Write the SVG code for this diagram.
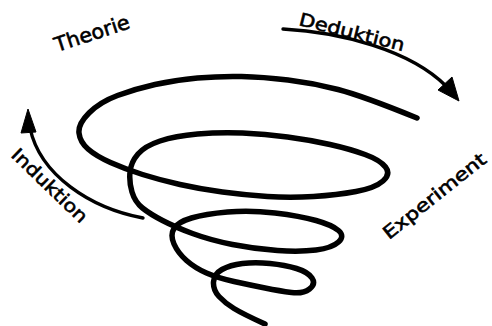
<svg xmlns="http://www.w3.org/2000/svg" width="492" height="326" viewBox="0 0 492 326">
<style>
.sp{fill:none;stroke:#000;stroke-width:5.5;stroke-linecap:round;stroke-linejoin:round}
.ar{fill:none;stroke:#000;stroke-width:3.4;stroke-linecap:round}
.hd{fill:#000;stroke:#000;stroke-width:1;stroke-linejoin:round}
.lb{font-family:"DejaVu Sans","Liberation Sans",sans-serif;fill:#000;stroke:#000;stroke-width:0.6}
</style>
<rect width="492" height="326" fill="#fff"/>
<g id="spiral">
<path class="sp" d="M417,118 Q363,96 338,89.5 Q313,83 288,80 Q263,77 241.5,76.5 Q220,76 197.5,78 Q175,80 155,84.5 Q135,89 117.5,95.5 Q100,102 89,113 Q78,124 79,133 Q80,142 88,149 Q96,156 110.5,162.5 Q125,169 142.5,174.5 Q160,180 180,184.5 Q200,189 222.5,192 Q245,195 267.5,196.5 Q290,198 313.5,196.5 Q337,195 356,191.5 Q375,188 383,181 Q391,174 385.5,167 Q380,160 365,154.5 Q350,149 330,144.5 Q310,140 287.5,137 Q265,134 242.5,133 Q220,132 197.5,134 Q175,136 160,141 Q145,146 138,154 Q131,162 130,172 Q129,182 132,192 Q135,202 142.5,208 Q150,214 162.5,220.5 Q175,227 192.5,233.5 Q210,240 232.5,244.5 Q255,249 277.5,250.5 Q300,252 316,250 Q332,248 338.5,242 Q345,236 338.5,230.5 Q332,225 316,220.5 Q300,216 275,213 Q250,210 227.5,212 Q205,214 191.5,218 Q178,222 174,228.5 Q170,235 174,244 Q178,253 186.5,260.5 Q195,268 206.5,273 Q218,278 234,281.5 Q250,285 265,288 Q280,291 291.5,292.5 Q303,294 309.5,289 Q316,284 312,278 Q308,272 296.5,268.5 Q285,265 270,263.5 Q255,262 242.5,263.5 Q230,265 222,269.5 Q214,274 213.5,282 Q213,290 219,296.5 Q225,303 234,308.5 Q243,314 265,324"/>
</g>
<g id="connectors">
<path class="ar" d="M283,29 C340,32 410,50 446,86"/>
<polygon class="hd" points="459,101 438,90 452,77"/>
<path class="ar" d="M143,218 C90,208 40,175 30,128"/>
<polygon class="hd" points="28,109 21,133 36,132"/>
</g>
<g id="theorie"><text class="lb" font-size="20" textLength="78" lengthAdjust="spacingAndGlyphs" transform="translate(57,52) rotate(-18)">Theorie</text></g>
<g id="deduktion"><text class="lb" font-size="18" textLength="108" lengthAdjust="spacingAndGlyphs" transform="translate(298,25) rotate(14)">Deduktion</text></g>
<g id="induktion"><text class="lb" font-size="18" textLength="98" lengthAdjust="spacingAndGlyphs" transform="translate(10,156) rotate(44)">Induktion</text></g>
<g id="experiment"><text class="lb" font-size="18" textLength="126" lengthAdjust="spacingAndGlyphs" transform="translate(389,240) rotate(-38.5)">Experiment</text></g>
</svg>
